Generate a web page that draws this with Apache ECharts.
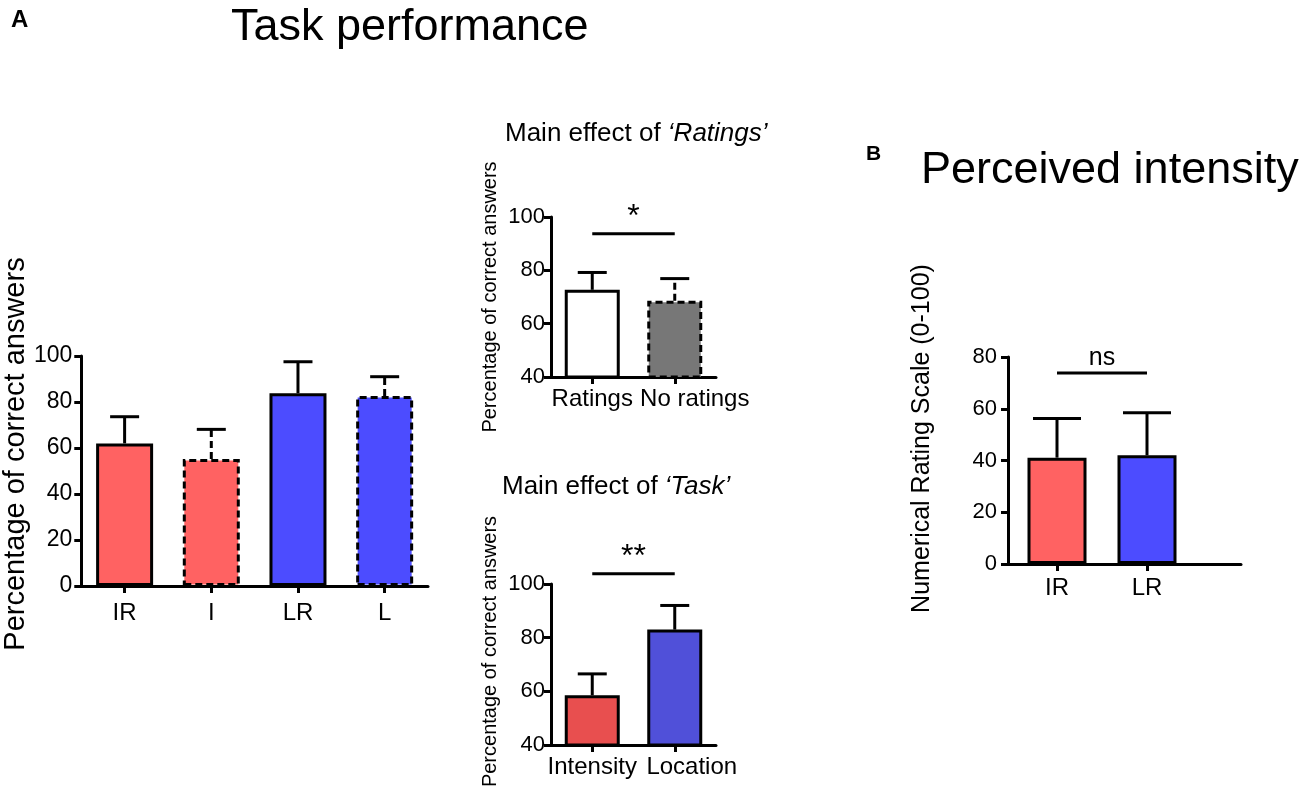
<!DOCTYPE html>
<html>
<head>
<meta charset="utf-8">
<script src="https://cdn.jsdelivr.net/npm/echarts@6/dist/echarts.min.js"></script>
<style>
  html, body { margin: 0; padding: 0; background: #fff; }
  #chart { width: 1300px; height: 803px; }
</style>
</head>
<body>
<div id="chart"></div>
<script>
// task performance, 4 conditions
var mainCats = ['IR', 'I', 'LR', 'L'];
var mainMean = [62.0, 55.2, 83.8, 82.6];
var mainErr = [11.6, 12.9, 13.7, 8.4];
var mainColors = ['#FF6262', '#FF6262', '#4C4CFF', '#4C4CFF'];
var mainDashed = [false, true, false, true];

// main effect of ratings
var ratingsCats = ['Ratings', 'No ratings'];
var ratingsMean = [72.7, 68.6];
var ratingsErr = [6.5, 8.3];
var ratingsColors = ['#FFFFFF', '#777777'];
var ratingsDashed = [false, true];
var ratingsSig = [0, 1, 93.7, '*'];

// main effect of task
var taskCats = ['Intensity', 'Location'];
var taskMean = [58.5, 83.0];
var taskErr = [8.0, 9.0];
var taskColors = ['#E84F4F', '#5050D9'];
var taskDashed = [false, false];
var taskSig = [0, 1, 103.8, '**'];

// perceived intensity
var intCats = ['IR', 'LR'];
var intMean = [41.1, 42.0];
var intErr = [15.1, 16.5];
var intColors = ['#FF6262', '#4C4CFF'];
var intDashed = [false, false];
var intSig = [0, 1, 73.8, 'ns'];

var FONT = '"Liberation Sans", Arial, Helvetica, sans-serif';

function barData(means, colors, dashed) {
  return means.map(function (v, i) {
    return {
      value: v,
      itemStyle: {
        color: colors[i],
        borderColor: '#000',
        borderWidth: 3,
        borderType: dashed[i] ? [7, 4] : 'solid'
      }
    };
  });
}

function errData(means, errs, dashed) {
  return means.map(function (v, i) {
    return [i, v, v + errs[i], dashed[i] ? 1 : 0];
  });
}

function errRender(capW) {
  return function (params, api) {
    var x = api.value(0);
    var p0 = api.coord([x, api.value(1)]);
    var p1 = api.coord([x, api.value(2)]);
    return {
      type: 'group',
      children: [{
        type: 'line',
        shape: { x1: p0[0], y1: p0[1], x2: p1[0], y2: p1[1] },
        style: { stroke: '#000', lineWidth: 3, lineDash: api.value(3) ? [7, 4] : null }
      }, {
        type: 'line',
        shape: { x1: p1[0] - capW / 2, y1: p1[1], x2: p1[0] + capW / 2, y2: p1[1] },
        style: { stroke: '#000', lineWidth: 3 }
      }]
    };
  };
}

function sigRender(label, fontSize, gap) {
  return function (params, api) {
    var a = api.coord([api.value(0), api.value(2)]);
    var b = api.coord([api.value(1), api.value(2)]);
    return {
      type: 'group',
      children: [{
        type: 'line',
        shape: { x1: a[0], y1: a[1], x2: b[0], y2: b[1] },
        style: { stroke: '#000', lineWidth: 3 }
      }, {
        type: 'text',
        x: (a[0] + b[0]) / 2,
        y: a[1] - gap,
        style: { text: label, fill: '#000', font: fontSize + 'px ' + FONT, align: 'center', verticalAlign: 'middle' }
      }]
    };
  };
}

// second label of the small panels sits a bit right of its tick, as in the source figure
function shiftedCats(cats, shift) {
  return cats.map(function (c, i) {
    return i === 1 ? { value: c, textStyle: { padding: [0, 0, 0, shift] } } : c;
  });
}

function catAxis(idx, cats, fontSize, margin, showLine) {
  return {
    gridIndex: idx,
    type: 'category',
    data: cats,
    axisLine: { show: showLine, lineStyle: { color: '#000', width: 3 } },
    axisTick: { show: true, alignWithLabel: true, length: 7, lineStyle: { color: '#000', width: 3 } },
    axisLabel: { color: '#000', fontSize: fontSize, fontFamily: FONT, margin: margin, interval: 0, hideOverlap: false },
    splitLine: { show: false }
  };
}

function valAxis(idx, min, max, name, nameSize, nameGap, namePad, fontSize, margin) {
  return {
    gridIndex: idx,
    type: 'value',
    min: min,
    max: max,
    interval: 20,
    name: name,
    nameLocation: 'middle',
    nameGap: nameGap,
    nameTextStyle: { color: '#000', fontSize: nameSize, fontFamily: FONT, padding: [0, 0, 0, namePad] },
    axisLine: { show: true, lineStyle: { color: '#000', width: 3 } },
    axisTick: { show: true, length: 7, lineStyle: { color: '#000', width: 3 } },
    axisLabel: { color: '#000', fontSize: fontSize, fontFamily: FONT, margin: margin },
    splitLine: { show: false }
  };
}

var chart = echarts.init(document.getElementById('chart'));
chart.setOption({
  backgroundColor: '#fff',
  animation: false,
  textStyle: { fontFamily: FONT, color: '#000' },
  title: [
    { text: 'A', left: 6, top: 3, textStyle: { fontSize: 24, fontWeight: 'bold', fontFamily: FONT, color: '#000' } },
    { text: 'Task performance', left: 226, top: 0, textStyle: { fontSize: 45, fontWeight: 'normal', fontFamily: FONT, color: '#000' } },
    {
      text: 'Main effect of {i|‘Ratings’}', left: 500, top: 116,
      textStyle: { fontSize: 26, fontWeight: 'normal', fontFamily: FONT, color: '#000',
        rich: { i: { fontSize: 26, fontStyle: 'italic', fontFamily: FONT, color: '#000' } } }
    },
    {
      text: 'Main effect of {i|‘Task’}', left: 497, top: 469,
      textStyle: { fontSize: 26, fontWeight: 'normal', fontFamily: FONT, color: '#000',
        rich: { i: { fontSize: 26, fontStyle: 'italic', fontFamily: FONT, color: '#000' } } }
    },
    { text: 'B', left: 861, top: 139, textStyle: { fontSize: 21, fontWeight: 'bold', fontFamily: FONT, color: '#000' } },
    { text: 'Perceived intensity', left: 916, top: 143, textStyle: { fontSize: 45, fontWeight: 'normal', fontFamily: FONT, color: '#000' } }
  ],
  grid: [
    { left: 81, top: 356, width: 347, height: 230 },
    { left: 551, top: 217, width: 165, height: 160 },
    { left: 551, top: 584, width: 165, height: 161 },
    { left: 1012, top: 357, width: 180, height: 207 },
    { left: 1008, top: 357, width: 233, height: 207 }
  ],
  xAxis: [
    catAxis(0, mainCats, 24, 15, true),
    catAxis(1, shiftedCats(ratingsCats, 40), 24, 10, true),
    catAxis(2, shiftedCats(taskCats, 34), 24, 10, true),
    catAxis(3, intCats, 24, 12, false),
    {
      gridIndex: 4, type: 'value', min: 0, max: 1,
      axisLine: { show: true, lineStyle: { color: '#000', width: 3 } },
      axisTick: { show: false }, axisLabel: { show: false }, splitLine: { show: false }
    }
  ],
  yAxis: [
    valAxis(0, 0, 100, 'Percentage of correct answers', 29, 46, 34, 23, 9),
    valAxis(1, 40, 100, 'Percentage of correct answers', 20, 51, 0, 22, 6),
    valAxis(2, 40, 100, 'Percentage of correct answers', 20, 51, 26, 22, 6),
    { gridIndex: 3, type: 'value', min: 0, max: 80, interval: 20, show: false },
    valAxis(4, 0, 80, 'Numerical Rating Scale (0-100)', 25, 73, 44, 22, 11)
  ],
  series: [
    // error bars (drawn under the bars)
    { type: 'custom', xAxisIndex: 0, yAxisIndex: 0, z: 1, renderItem: errRender(29),
      encode: { x: 0, y: [1, 2] }, data: errData(mainMean, mainErr, mainDashed) },
    { type: 'custom', xAxisIndex: 1, yAxisIndex: 1, z: 1, renderItem: errRender(29),
      encode: { x: 0, y: [1, 2] }, data: errData(ratingsMean, ratingsErr, ratingsDashed) },
    { type: 'custom', xAxisIndex: 2, yAxisIndex: 2, z: 1, renderItem: errRender(29),
      encode: { x: 0, y: [1, 2] }, data: errData(taskMean, taskErr, taskDashed) },
    { type: 'custom', xAxisIndex: 3, yAxisIndex: 3, z: 1, renderItem: errRender(48),
      encode: { x: 0, y: [1, 2] }, data: errData(intMean, intErr, intDashed) },
    // bars
    { type: 'bar', xAxisIndex: 0, yAxisIndex: 0, z: 2, barWidth: 57, data: barData(mainMean, mainColors, mainDashed) },
    { type: 'bar', xAxisIndex: 1, yAxisIndex: 1, z: 2, barWidth: 55, data: barData(ratingsMean, ratingsColors, ratingsDashed) },
    { type: 'bar', xAxisIndex: 2, yAxisIndex: 2, z: 2, barWidth: 55, data: barData(taskMean, taskColors, taskDashed) },
    { type: 'bar', xAxisIndex: 3, yAxisIndex: 3, z: 2, barWidth: 59, data: barData(intMean, intColors, intDashed) },
    // significance lines
    { type: 'custom', xAxisIndex: 1, yAxisIndex: 1, z: 3, renderItem: sigRender(ratingsSig[3], 32, 17),
      encode: { x: [0, 1], y: 2 }, data: [ratingsSig.slice(0, 3)] },
    { type: 'custom', xAxisIndex: 2, yAxisIndex: 2, z: 3, renderItem: sigRender(taskSig[3], 32, 17),
      encode: { x: [0, 1], y: 2 }, data: [taskSig.slice(0, 3)] },
    { type: 'custom', xAxisIndex: 3, yAxisIndex: 3, z: 3, renderItem: sigRender(intSig[3], 25, 15),
      encode: { x: [0, 1], y: 2 }, data: [intSig.slice(0, 3)] }
  ]
});
</script>
</body>
</html>
